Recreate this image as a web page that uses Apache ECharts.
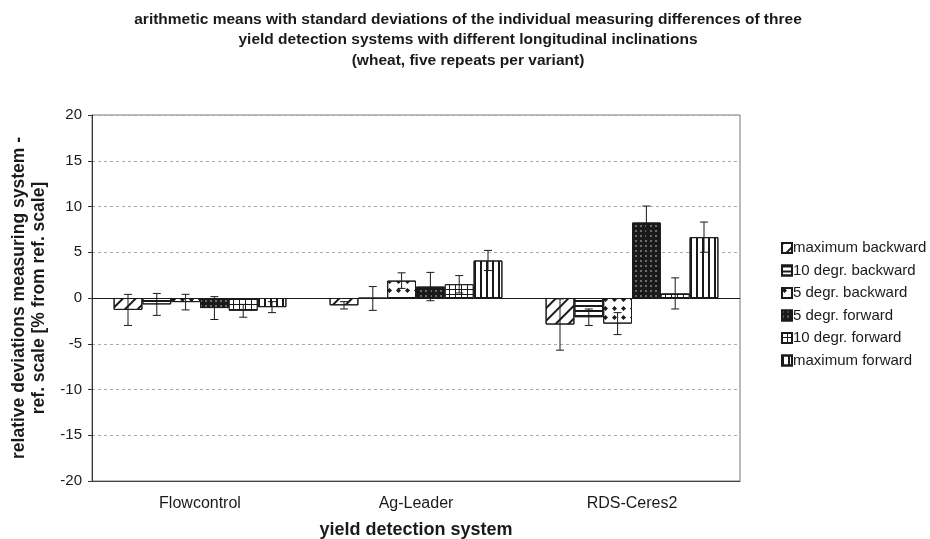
<!DOCTYPE html>
<html>
<head>
<meta charset="utf-8">
<script src="https://cdn.jsdelivr.net/npm/echarts@6/dist/echarts.min.js"></script>
<style>
  html, body { margin: 0; padding: 0; background: #fff; }
  #chart { width: 930px; height: 539px; }
</style>
</head>
<body>
<div id="chart"></div>
<script>
// data
const categories = ['Flowcontrol', 'Ag-Leader', 'RDS-Ceres2'];
const seriesNames = ['maximum backward', '10 degr. backward', '5 degr. backward',
  '5 degr. forward', '10 degr. forward', 'maximum forward'];

const maxBackward = [-1.3, -0.8, -2.9];
const tenBackward = [-0.7, -0.05, -2.1];
const fiveBackward = [-0.45, 1.9, -2.8];
const fiveForward = [-1.1, 1.25, 8.25];
const tenForward = [-1.4, 1.5, 0.5];
const maxForward = [-1.0, 4.1, 6.65];

const sdMaxBackward = [1.7, 0.4, 2.8];
const sdTenBackward = [1.2, 1.3, 0.9];
const sdFiveBackward = [0.85, 0.85, 1.2];
const sdFiveForward = [1.25, 1.55, 1.8];
const sdTenForward = [0.7, 0.95, 1.7];
const sdMaxForward = [0.6, 1.1, 1.65];

const yTicks = [-20, -15, -10, -5, 0, 5, 10, 15, 20];

const means = [maxBackward, tenBackward, fiveBackward, fiveForward, tenForward, maxForward];
const sds = [sdMaxBackward, sdTenBackward, sdFiveBackward, sdFiveForward, sdTenForward, sdMaxForward];

const FONT = 'Liberation Sans, Arial, sans-serif';
const INK = '#1a1a1a';

const decals = [
  { symbol: 'rect', color: INK, dashArrayX: [1, 0], dashArrayY: [2, 7], rotation: -Math.PI / 4 },
  { symbol: 'rect', color: INK, dashArrayX: [1, 0], dashArrayY: [2, 3] },
  { symbol: 'diamond', color: INK, symbolSize: 1, dashArrayX: [5, 4], dashArrayY: [5, 4] },
  { symbol: 'circle', color: '#fff', backgroundColor: INK, symbolSize: 0.7, dashArrayX: [2, 3], dashArrayY: [2, 3] },
  { symbol: 'rect', color: '#fff', backgroundColor: INK, dashArrayX: [5, 1], dashArrayY: [4, 1] },
  { symbol: 'rect', color: INK, dashArrayX: [2, 4], dashArrayY: [1, 0] }
];

const BAR_GAP = 0.2;

const barSeries = seriesNames.map(function (name, i) {
  const s = {
    name: name,
    type: 'bar',
    barGap: 0,
    barCategoryGap: (BAR_GAP * 100) + '%',
    data: means[i],
    itemStyle: { color: '#fff', borderColor: INK, borderWidth: 1, decal: decals[i] },
    emphasis: { disabled: true }
  };
  if (i === 0) {
    s.markLine = {
      silent: true,
      symbol: 'none',
      label: { show: false },
      lineStyle: { color: INK, type: 'solid', width: 1 },
      data: [{ yAxis: 0 }]
    };
  }
  return s;
});

// error bars
const errData = [];
means.forEach(function (arr, si) {
  arr.forEach(function (v, ci) {
    errData.push([ci, v, sds[si][ci], si]);
  });
});

const errorSeries = {
  type: 'custom',
  silent: true,
  z: 10,
  data: errData,
  encode: { x: 0, y: 1 },
  renderItem: function (params, api) {
    const ci = api.value(0);
    const m = api.value(1);
    const sd = api.value(2);
    const si = api.value(3);
    const bandW = api.size([1, 0])[0];
    const barW = bandW * (1 - BAR_GAP) / seriesNames.length;
    const c = api.coord([ci, m]);
    const x = c[0] + (si - 2.5) * barW;
    const top = api.coord([ci, m + sd])[1];
    const bot = api.coord([ci, m - sd])[1];
    const cap = 4;
    const style = { stroke: INK, lineWidth: 1 };
    return {
      type: 'group',
      children: [
        { type: 'line', shape: { x1: x, y1: top, x2: x, y2: bot }, style: style },
        { type: 'line', shape: { x1: x - cap, y1: top, x2: x + cap, y2: top }, style: style },
        { type: 'line', shape: { x1: x - cap, y1: bot, x2: x + cap, y2: bot }, style: style }
      ]
    };
  }
};

const myChart = echarts.init(document.getElementById('chart'));

myChart.setOption({
  backgroundColor: '#fff',
  animation: false,
  textStyle: { fontFamily: FONT },
  title: {
    text: 'arithmetic means with standard deviations of the individual measuring differences of three\nyield detection systems with different longitudinal inclinations\n(wheat, five repeats per variant)',
    left: 463,
    textAlign: 'center',
    top: 4,
    textStyle: { fontSize: 15.5, fontWeight: 'bold', color: INK, lineHeight: 20.5, fontFamily: FONT }
  },
  legend: {
    orient: 'vertical',
    left: 776,
    top: 235,
    itemWidth: 10,
    itemHeight: 10,
    itemGap: 6.5,
    icon: 'rect',
    selectedMode: false,
    textStyle: { fontSize: 15, lineHeight: 16, color: INK, fontFamily: FONT, padding: [0, 0, 0, -4] },
    data: seriesNames
  },
  grid: {
    left: 92,
    right: 190,
    top: 115,
    bottom: 58,
    outerBoundsMode: 'none',
    containLabel: false,
    show: true,
    borderColor: '#777',
    borderWidth: 1
  },
  xAxis: {
    type: 'category',
    data: categories,
    name: 'yield detection system',
    nameLocation: 'middle',
    nameGap: 40,
    nameTextStyle: { fontSize: 18, fontWeight: 'bold', color: INK },
    axisLine: { onZero: false, lineStyle: { color: '#444' } },
    axisTick: { show: false },
    axisLabel: { fontSize: 16, color: INK, margin: 15 },
    splitLine: { show: false }
  },
  yAxis: {
    type: 'value',
    min: yTicks[0],
    max: yTicks[yTicks.length - 1],
    interval: 5,
    name: 'relative deviations measuring system -\nref. scale [% from ref. scale]',
    nameLocation: 'middle',
    nameRotate: 90,
    nameGap: 33,
    nameTextStyle: { fontSize: 17.5, fontWeight: 'bold', color: INK, lineHeight: 20 },
    axisLine: { show: true, lineStyle: { color: '#333' } },
    axisTick: { show: true, length: 4, lineStyle: { color: '#333' } },
    axisLabel: { fontSize: 15, color: INK, margin: 10 },
    splitLine: { show: true, lineStyle: { color: '#aaa', type: [3, 3] } }
  },
  series: barSeries.concat([errorSeries])
});
</script>
</body>
</html>
